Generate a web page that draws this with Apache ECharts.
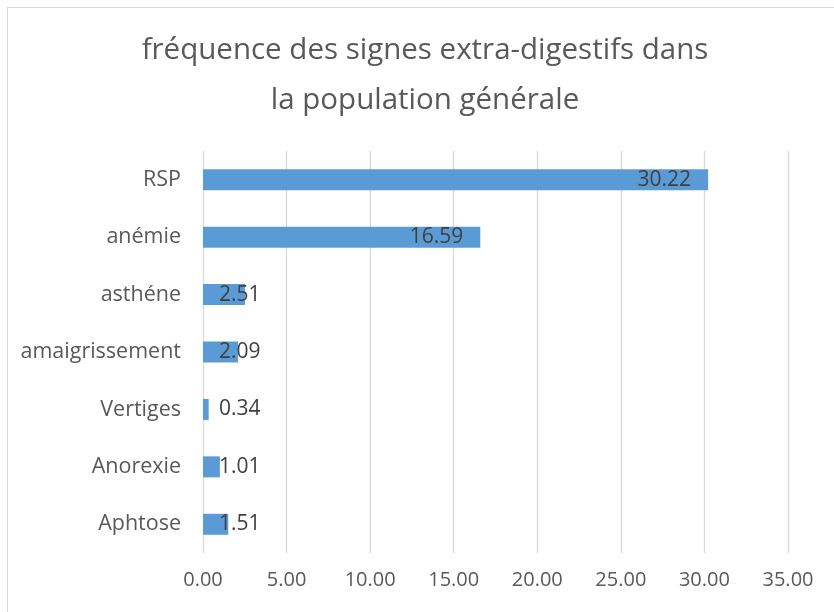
<!DOCTYPE html>
<html>
<head>
<meta charset="utf-8">
<script src="https://cdn.jsdelivr.net/npm/echarts@6/dist/echarts.min.js"></script>
<style>
  html, body { margin: 0; padding: 0; background: #fff; overflow: hidden; }
  #chart { width: 834px; height: 612px; }
  #frame {
    position: absolute; left: 7px; top: 7px; width: 900px; height: 700px;
    border-top: 1px solid #d9d9d9; border-left: 1px solid #d9d9d9;
    pointer-events: none;
  }
</style>
</head>
<body>
<div id="chart"></div>
<div id="frame"></div>
<script>
// signes extra-digestifs, du haut vers le bas
var categories = ['RSP', 'anémie', 'asthéne', 'amaigrissement', 'Vertiges', 'Anorexie', 'Aphtose'];
var frequences = [30.22, 16.59, 2.51, 2.09, 0.34, 1.01, 1.51];
var xTicks = [0, 5, 10, 15, 20, 25, 30, 35];

var FONT = '"Open Sans", "Liberation Sans", sans-serif';

// étiquettes : à l'intérieur en fin de barre si la barre est assez longue
var barData = frequences.map(function (v) {
  var big = v > 10;
  return {
    value: v,
    label: {
      position: big ? 'insideRight' : 'insideLeft',
      distance: big ? 17 : 16
    }
  };
});

var chart = echarts.init(document.getElementById('chart'), null, { renderer: 'canvas' });

var option = {
  animation: false,
  title: {
    text: 'fréquence des signes extra-digestifs dans\nla population générale',
    left: 420,
    top: 21,
    textAlign: 'center',
    textStyle: {
      fontFamily: FONT,
      fontSize: 29.5,
      fontWeight: 'normal',
      color: '#595959',
      lineHeight: 50
    }
  },
  grid: {
    left: 203,
    right: 46,
    top: 151,
    bottom: 59,
    containLabel: false
  },
  xAxis: {
    type: 'value',
    min: xTicks[0],
    max: xTicks[xTicks.length - 1],
    interval: 5,
    axisLine: { show: false },
    axisTick: { show: false },
    axisLabel: {
      margin: 17,
      fontFamily: FONT,
      fontSize: 20,
      color: '#595959',
      formatter: function (v) { return v.toFixed(2); }
    },
    splitLine: { show: true, lineStyle: { color: '#d9d9d9', width: 1.3 } }
  },
  yAxis: {
    type: 'category',
    data: categories,
    inverse: true,
    axisLine: { show: false },
    axisTick: { show: false },
    axisLabel: {
      margin: 22,
      fontFamily: FONT,
      fontSize: 21.5,
      color: '#595959'
    }
  },
  series: [{
    type: 'bar',
    data: barData,
    barWidth: 21,
    itemStyle: { color: '#5b9bd5' },
    label: {
      show: true,
      fontFamily: FONT,
      fontSize: 21,
      color: '#404040',
      formatter: function (p) { return p.value.toFixed(2); }
    }
  }]
};

chart.setOption(option);
</script>
</body>
</html>
